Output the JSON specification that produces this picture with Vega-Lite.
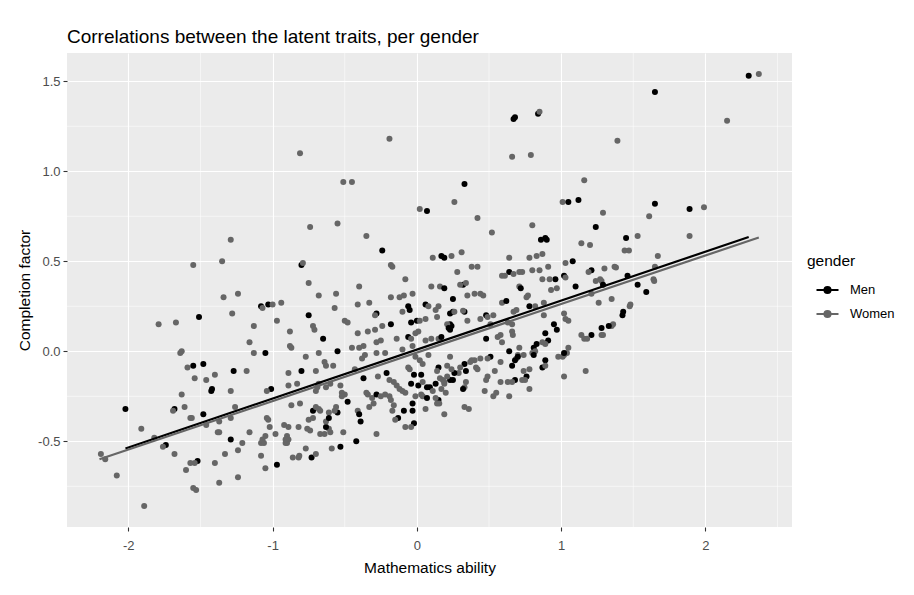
{
  "$schema": "https://vega.github.io/schema/vega-lite/v6.json",
  "width": 725,
  "height": 474,
  "autosize": {"type": "none"},
  "padding": {"left": 67, "top": 53, "right": 122, "bottom": 68},
  "background": "white",
  "title": {"text": "Correlations between the latent traits, per gender", "anchor": "start", "frame": "group", "fontSize": 19, "font": "Liberation Sans", "fontWeight": "normal", "color": "black", "offset": 6},
  "config": {
    "font": "Liberation Sans",
    "view": {"fill": "#ebebeb", "stroke": null},
    "axis": {"gridColor": "white", "gridWidth": 1.1, "gridOpacity": 1, "domain": false, "tickColor": "#333333", "tickSize": 4, "tickWidth": 1.1, "labelColor": "#4d4d4d", "labelFontSize": 13, "titleFontSize": 15.5, "titleFontWeight": "normal", "titleColor": "black", "labelPadding": 2}
  },
  "datasets": {
    "minorx": [{"v": -1.5}, {"v": -0.5}, {"v": 0.5}, {"v": 1.5}, {"v": 2.5}],
    "minory": [{"v": -0.75}, {"v": -0.25}, {"v": 0.25}, {"v": 0.75}, {"v": 1.25}],
    "fits": [
      {"x": -2.02, "y": -0.54, "gender": "Men"}, {"x": 2.30, "y": 0.635, "gender": "Men"},
      {"x": -2.20, "y": -0.60, "gender": "Women"}, {"x": 2.37, "y": 0.632, "gender": "Women"}
    ],
    "points": [
      {"x": -0.81, "y": 1.10, "gender": "Women"}, {"x": -0.19, "y": 1.18, "gender": "Women"}, {"x": -0.51, "y": 0.94, "gender": "Women"}, {"x": -0.45, "y": 0.94, "gender": "Women"},
      {"x": 0.02, "y": 0.79, "gender": "Women"}, {"x": -0.74, "y": 0.69, "gender": "Women"}, {"x": -0.55, "y": 0.71, "gender": "Women"}, {"x": -0.35, "y": 0.64, "gender": "Women"},
      {"x": -0.24, "y": 0.56, "gender": "Men"}, {"x": -1.29, "y": 0.62, "gender": "Women"}, {"x": -1.35, "y": 0.50, "gender": "Women"}, {"x": -1.55, "y": 0.48, "gender": "Women"},
      {"x": -0.80, "y": 0.48, "gender": "Men"}, {"x": -0.79, "y": 0.49, "gender": "Women"}, {"x": -0.18, "y": 0.48, "gender": "Women"}, {"x": -0.17, "y": 0.47, "gender": "Women"},
      {"x": -0.08, "y": 0.40, "gender": "Women"}, {"x": -0.75, "y": 0.38, "gender": "Women"}, {"x": -0.40, "y": 0.36, "gender": "Women"},
      {"x": 2.30, "y": 1.53, "gender": "Men"}, {"x": 2.37, "y": 1.54, "gender": "Women"}, {"x": 1.65, "y": 1.44, "gender": "Men"}, {"x": 2.15, "y": 1.28, "gender": "Women"},
      {"x": 0.67, "y": 1.29, "gender": "Men"}, {"x": 0.68, "y": 1.30, "gender": "Men"}, {"x": 0.84, "y": 1.32, "gender": "Men"}, {"x": 0.85, "y": 1.33, "gender": "Women"},
      {"x": 0.66, "y": 1.08, "gender": "Women"}, {"x": 0.79, "y": 1.09, "gender": "Women"}, {"x": 1.39, "y": 1.17, "gender": "Women"}, {"x": 0.33, "y": 0.93, "gender": "Men"},
      {"x": 1.16, "y": 0.95, "gender": "Women"}, {"x": 0.26, "y": 0.83, "gender": "Women"}, {"x": 0.07, "y": 0.78, "gender": "Men"}, {"x": 1.01, "y": 0.83, "gender": "Women"},
      {"x": 1.05, "y": 0.83, "gender": "Men"}, {"x": 1.12, "y": 0.84, "gender": "Men"}, {"x": 1.65, "y": 0.82, "gender": "Men"}, {"x": 1.89, "y": 0.79, "gender": "Men"},
      {"x": 1.99, "y": 0.80, "gender": "Women"}, {"x": 1.29, "y": 0.77, "gender": "Women"}, {"x": 1.61, "y": 0.75, "gender": "Women"}, {"x": 0.42, "y": 0.74, "gender": "Women"},
      {"x": 1.24, "y": 0.69, "gender": "Men"}, {"x": 0.52, "y": 0.66, "gender": "Women"}, {"x": 0.80, "y": 0.70, "gender": "Women"}, {"x": 0.86, "y": 0.62, "gender": "Men"},
      {"x": 0.89, "y": 0.63, "gender": "Men"}, {"x": 0.90, "y": 0.62, "gender": "Men"}, {"x": 1.45, "y": 0.63, "gender": "Men"}, {"x": 1.53, "y": 0.64, "gender": "Women"},
      {"x": 1.89, "y": 0.64, "gender": "Women"}, {"x": 1.14, "y": 0.60, "gender": "Women"}, {"x": 1.20, "y": 0.59, "gender": "Women"}, {"x": 1.44, "y": 0.56, "gender": "Women"},
      {"x": 1.47, "y": 0.56, "gender": "Women"}, {"x": 1.67, "y": 0.53, "gender": "Women"}, {"x": 0.17, "y": 0.53, "gender": "Men"}, {"x": 0.19, "y": 0.52, "gender": "Men"},
      {"x": 0.11, "y": 0.52, "gender": "Women"}, {"x": 0.24, "y": 0.53, "gender": "Women"}, {"x": 0.31, "y": 0.55, "gender": "Women"}, {"x": 0.64, "y": 0.52, "gender": "Women"},
      {"x": 0.78, "y": 0.52, "gender": "Women"}, {"x": 0.83, "y": 0.53, "gender": "Women"}, {"x": 0.87, "y": 0.54, "gender": "Women"}, {"x": 1.03, "y": 0.49, "gender": "Women"},
      {"x": 1.08, "y": 0.50, "gender": "Men"}, {"x": 0.38, "y": 0.47, "gender": "Women"}, {"x": 0.42, "y": 0.47, "gender": "Women"}, {"x": 0.28, "y": 0.44, "gender": "Women"},
      {"x": 0.64, "y": 0.44, "gender": "Men"}, {"x": 0.67, "y": 0.43, "gender": "Women"}, {"x": 0.71, "y": 0.44, "gender": "Women"}, {"x": 0.73, "y": 0.44, "gender": "Women"},
      {"x": 0.59, "y": 0.42, "gender": "Women"}, {"x": 0.61, "y": 0.42, "gender": "Women"}, {"x": 0.80, "y": 0.45, "gender": "Women"}, {"x": 0.85, "y": 0.45, "gender": "Women"},
      {"x": 0.91, "y": 0.47, "gender": "Women"}, {"x": 1.21, "y": 0.45, "gender": "Men"}, {"x": 1.19, "y": 0.44, "gender": "Women"}, {"x": 1.30, "y": 0.46, "gender": "Women"},
      {"x": 1.37, "y": 0.47, "gender": "Women"}, {"x": 1.38, "y": 0.465, "gender": "Women"}, {"x": 1.65, "y": 0.47, "gender": "Women"}, {"x": 1.46, "y": 0.42, "gender": "Men"},
      {"x": 1.02, "y": 0.42, "gender": "Men"}, {"x": 1.03, "y": 0.41, "gender": "Women"}, {"x": 0.96, "y": 0.40, "gender": "Men"}, {"x": 0.87, "y": 0.40, "gender": "Women"},
      {"x": 0.92, "y": 0.40, "gender": "Women"}, {"x": 0.71, "y": 0.36, "gender": "Women"}, {"x": 0.10, "y": 0.36, "gender": "Women"}, {"x": 0.16, "y": 0.36, "gender": "Women"},
      {"x": 0.19, "y": 0.35, "gender": "Men"}, {"x": 0.32, "y": 0.37, "gender": "Men"}, {"x": 0.30, "y": 0.37, "gender": "Women"}, {"x": 0.34, "y": 0.38, "gender": "Women"},
      {"x": 1.10, "y": 0.36, "gender": "Men"}, {"x": 1.27, "y": 0.40, "gender": "Women"}, {"x": 1.28, "y": 0.39, "gender": "Women"}, {"x": 1.24, "y": 0.39, "gender": "Women"},
      {"x": 1.53, "y": 0.37, "gender": "Men"}, {"x": 1.64, "y": 0.40, "gender": "Women"}, {"x": 1.645, "y": 0.39, "gender": "Women"}, {"x": 0.97, "y": 0.35, "gender": "Women"},
      {"x": -1.34, "y": 0.30, "gender": "Women"}, {"x": -1.24, "y": 0.32, "gender": "Women"}, {"x": -0.68, "y": 0.31, "gender": "Women"}, {"x": -0.56, "y": 0.32, "gender": "Women"},
      {"x": -0.12, "y": 0.30, "gender": "Women"}, {"x": -0.09, "y": 0.31, "gender": "Women"}, {"x": -1.28, "y": 0.21, "gender": "Women"}, {"x": -1.08, "y": 0.25, "gender": "Men"},
      {"x": -1.07, "y": 0.24, "gender": "Women"}, {"x": -1.03, "y": 0.26, "gender": "Men"}, {"x": -1.00, "y": 0.26, "gender": "Women"}, {"x": -0.94, "y": 0.27, "gender": "Women"},
      {"x": -0.75, "y": 0.20, "gender": "Men"}, {"x": -0.57, "y": 0.24, "gender": "Women"}, {"x": -0.41, "y": 0.26, "gender": "Women"}, {"x": -0.33, "y": 0.27, "gender": "Women"},
      {"x": -0.06, "y": 0.25, "gender": "Men"}, {"x": -0.05, "y": 0.23, "gender": "Men"}, {"x": -1.51, "y": 0.19, "gender": "Men"}, {"x": -1.79, "y": 0.15, "gender": "Women"},
      {"x": -1.67, "y": 0.16, "gender": "Women"}, {"x": -0.97, "y": 0.17, "gender": "Women"}, {"x": -1.13, "y": 0.14, "gender": "Women"}, {"x": -0.88, "y": 0.11, "gender": "Women"},
      {"x": -0.72, "y": 0.14, "gender": "Women"}, {"x": -0.71, "y": 0.12, "gender": "Women"}, {"x": -0.50, "y": 0.17, "gender": "Women"}, {"x": -0.48, "y": 0.16, "gender": "Women"},
      {"x": -0.28, "y": 0.21, "gender": "Men"}, {"x": -0.29, "y": 0.20, "gender": "Women"}, {"x": -0.18, "y": 0.15, "gender": "Men"}, {"x": -0.04, "y": 0.16, "gender": "Men"},
      {"x": 0.00, "y": 0.17, "gender": "Men"}, {"x": -0.06, "y": 0.08, "gender": "Men"}, {"x": -0.01, "y": 0.10, "gender": "Women"}, {"x": -0.41, "y": 0.10, "gender": "Women"},
      {"x": -0.34, "y": 0.11, "gender": "Women"}, {"x": -0.29, "y": 0.12, "gender": "Women"}, {"x": -0.24, "y": 0.14, "gender": "Women"}, {"x": -0.14, "y": 0.07, "gender": "Women"},
      {"x": -0.65, "y": 0.07, "gender": "Men"}, {"x": -1.16, "y": 0.05, "gender": "Women"}, {"x": -0.88, "y": 0.03, "gender": "Women"}, {"x": -0.87, "y": 0.02, "gender": "Women"},
      {"x": -0.55, "y": 0.00, "gender": "Men"}, {"x": -0.68, "y": -0.01, "gender": "Women"}, {"x": -0.77, "y": -0.03, "gender": "Women"}, {"x": -1.05, "y": -0.01, "gender": "Men"},
      {"x": -1.13, "y": -0.01, "gender": "Women"}, {"x": -1.64, "y": -0.01, "gender": "Women"}, {"x": -1.63, "y": 0.00, "gender": "Women"}, {"x": -0.45, "y": 0.02, "gender": "Women"},
      {"x": -0.40, "y": 0.02, "gender": "Women"}, {"x": -0.37, "y": 0.03, "gender": "Women"}, {"x": -0.28, "y": -0.01, "gender": "Women"}, {"x": -0.22, "y": -0.01, "gender": "Women"},
      {"x": -0.36, "y": -0.02, "gender": "Women"}, {"x": -0.38, "y": -0.04, "gender": "Women"}, {"x": -0.10, "y": 0.01, "gender": "Women"}, {"x": -0.03, "y": 0.03, "gender": "Women"},
      {"x": -0.04, "y": 0.07, "gender": "Women"}, {"x": -0.01, "y": -0.03, "gender": "Women"}, {"x": -0.05, "y": -0.10, "gender": "Women"}, {"x": -0.06, "y": -0.09, "gender": "Women"},
      {"x": -1.59, "y": -0.09, "gender": "Women"}, {"x": -1.55, "y": -0.08, "gender": "Men"}, {"x": -1.48, "y": -0.07, "gender": "Men"}, {"x": -1.27, "y": -0.11, "gender": "Men"},
      {"x": -1.18, "y": -0.11, "gender": "Women"}, {"x": -0.80, "y": -0.11, "gender": "Men"}, {"x": -0.89, "y": -0.12, "gender": "Women"}, {"x": -0.70, "y": -0.11, "gender": "Women"},
      {"x": -0.63, "y": -0.08, "gender": "Women"}, {"x": -0.64, "y": -0.06, "gender": "Women"}, {"x": -0.58, "y": -0.08, "gender": "Women"}, {"x": -0.43, "y": -0.10, "gender": "Women"},
      {"x": -0.37, "y": -0.15, "gender": "Men"}, {"x": -0.27, "y": -0.14, "gender": "Women"}, {"x": -0.21, "y": -0.12, "gender": "Men"}, {"x": -0.19, "y": -0.16, "gender": "Women"},
      {"x": -0.16, "y": -0.17, "gender": "Women"}, {"x": -0.14, "y": -0.19, "gender": "Women"}, {"x": -0.12, "y": -0.21, "gender": "Women"}, {"x": -0.10, "y": -0.22, "gender": "Women"},
      {"x": -0.08, "y": -0.23, "gender": "Women"}, {"x": -0.04, "y": -0.18, "gender": "Men"}, {"x": -0.02, "y": -0.13, "gender": "Men"}, {"x": 0.01, "y": -0.19, "gender": "Men"},
      {"x": -0.01, "y": -0.25, "gender": "Women"}, {"x": -1.54, "y": -0.15, "gender": "Women"}, {"x": -1.46, "y": -0.16, "gender": "Women"}, {"x": -1.40, "y": -0.13, "gender": "Women"},
      {"x": -1.42, "y": -0.21, "gender": "Men"}, {"x": -1.425, "y": -0.22, "gender": "Men"}, {"x": -1.63, "y": -0.24, "gender": "Women"}, {"x": -1.29, "y": -0.22, "gender": "Women"},
      {"x": -1.01, "y": -0.21, "gender": "Men"}, {"x": -1.04, "y": -0.22, "gender": "Women"}, {"x": -0.89, "y": -0.19, "gender": "Women"}, {"x": -0.83, "y": -0.18, "gender": "Women"},
      {"x": -0.68, "y": -0.18, "gender": "Women"}, {"x": -0.69, "y": -0.20, "gender": "Women"}, {"x": -0.70, "y": -0.22, "gender": "Women"}, {"x": -0.63, "y": -0.20, "gender": "Women"},
      {"x": -0.60, "y": -0.18, "gender": "Women"}, {"x": -0.53, "y": -0.19, "gender": "Women"}, {"x": -0.52, "y": -0.23, "gender": "Women"}, {"x": -0.50, "y": -0.24, "gender": "Women"},
      {"x": -0.52, "y": -0.25, "gender": "Women"}, {"x": -0.48, "y": -0.28, "gender": "Men"}, {"x": -0.81, "y": -0.29, "gender": "Women"}, {"x": -0.87, "y": -0.30, "gender": "Women"},
      {"x": -0.72, "y": -0.33, "gender": "Men"}, {"x": -0.70, "y": -0.31, "gender": "Women"}, {"x": -0.68, "y": -0.32, "gender": "Women"}, {"x": -0.67, "y": -0.33, "gender": "Women"},
      {"x": -0.61, "y": -0.34, "gender": "Women"}, {"x": -0.55, "y": -0.34, "gender": "Men"}, {"x": -0.41, "y": -0.33, "gender": "Women"}, {"x": -0.40, "y": -0.35, "gender": "Men"},
      {"x": -0.39, "y": -0.39, "gender": "Men"}, {"x": -0.33, "y": -0.31, "gender": "Women"}, {"x": -0.30, "y": -0.29, "gender": "Women"}, {"x": -0.31, "y": -0.26, "gender": "Women"},
      {"x": -0.34, "y": -0.24, "gender": "Women"}, {"x": -0.35, "y": -0.23, "gender": "Women"}, {"x": -0.28, "y": -0.24, "gender": "Men"}, {"x": -0.25, "y": -0.25, "gender": "Women"},
      {"x": -0.22, "y": -0.24, "gender": "Women"}, {"x": -0.19, "y": -0.25, "gender": "Women"}, {"x": -0.18, "y": -0.27, "gender": "Women"}, {"x": -0.16, "y": -0.30, "gender": "Women"},
      {"x": -0.17, "y": -0.33, "gender": "Women"}, {"x": -0.13, "y": -0.37, "gender": "Men"}, {"x": -0.15, "y": -0.38, "gender": "Women"}, {"x": -0.09, "y": -0.33, "gender": "Men"},
      {"x": -0.03, "y": -0.33, "gender": "Men"}, {"x": -0.03, "y": -0.29, "gender": "Men"}, {"x": -0.02, "y": -0.40, "gender": "Men"}, {"x": -0.08, "y": -0.42, "gender": "Women"},
      {"x": -0.04, "y": -0.42, "gender": "Women"}, {"x": -0.28, "y": -0.46, "gender": "Women"}, {"x": -0.42, "y": -0.50, "gender": "Men"}, {"x": -0.53, "y": -0.53, "gender": "Men"},
      {"x": -0.51, "y": -0.45, "gender": "Women"}, {"x": -0.60, "y": -0.45, "gender": "Women"}, {"x": -0.61, "y": -0.43, "gender": "Women"}, {"x": -0.63, "y": -0.42, "gender": "Men"},
      {"x": -0.63, "y": -0.39, "gender": "Women"}, {"x": -0.61, "y": -0.37, "gender": "Men"}, {"x": -0.67, "y": -0.46, "gender": "Women"}, {"x": -0.74, "y": -0.44, "gender": "Women"},
      {"x": -0.76, "y": -0.43, "gender": "Women"}, {"x": -0.82, "y": -0.42, "gender": "Women"}, {"x": -0.92, "y": -0.41, "gender": "Women"}, {"x": -0.89, "y": -0.42, "gender": "Women"},
      {"x": -0.90, "y": -0.47, "gender": "Women"}, {"x": -0.89, "y": -0.49, "gender": "Women"}, {"x": -0.90, "y": -0.51, "gender": "Women"}, {"x": -0.91, "y": -0.51, "gender": "Women"},
      {"x": -0.91, "y": -0.49, "gender": "Women"}, {"x": -0.98, "y": -0.46, "gender": "Women"}, {"x": -1.05, "y": -0.47, "gender": "Women"}, {"x": -1.04, "y": -0.37, "gender": "Women"},
      {"x": -1.03, "y": -0.38, "gender": "Women"}, {"x": -1.02, "y": -0.42, "gender": "Women"}, {"x": -1.07, "y": -0.49, "gender": "Women"}, {"x": -1.08, "y": -0.51, "gender": "Women"},
      {"x": -1.06, "y": -0.51, "gender": "Women"}, {"x": -1.08, "y": -0.58, "gender": "Women"}, {"x": -1.05, "y": -0.65, "gender": "Women"}, {"x": -0.97, "y": -0.63, "gender": "Men"},
      {"x": -0.86, "y": -0.59, "gender": "Women"}, {"x": -0.82, "y": -0.59, "gender": "Women"}, {"x": -0.815, "y": -0.58, "gender": "Women"}, {"x": -0.77, "y": -0.54, "gender": "Women"},
      {"x": -0.73, "y": -0.59, "gender": "Men"}, {"x": -0.70, "y": -0.57, "gender": "Women"}, {"x": -0.59, "y": -0.54, "gender": "Women"}, {"x": -1.16, "y": -0.45, "gender": "Women"},
      {"x": -1.21, "y": -0.51, "gender": "Women"}, {"x": -1.24, "y": -0.55, "gender": "Women"}, {"x": -1.29, "y": -0.49, "gender": "Men"}, {"x": -1.33, "y": -0.57, "gender": "Women"},
      {"x": -1.40, "y": -0.62, "gender": "Women"}, {"x": -1.37, "y": -0.73, "gender": "Women"}, {"x": -1.24, "y": -0.70, "gender": "Women"}, {"x": -1.37, "y": -0.45, "gender": "Women"},
      {"x": -1.38, "y": -0.45, "gender": "Women"}, {"x": -1.26, "y": -0.31, "gender": "Women"}, {"x": -1.29, "y": -0.37, "gender": "Women"}, {"x": -1.46, "y": -0.41, "gender": "Women"},
      {"x": -1.48, "y": -0.35, "gender": "Men"}, {"x": -1.37, "y": -0.39, "gender": "Women"}, {"x": -1.57, "y": -0.37, "gender": "Women"}, {"x": -1.56, "y": -0.37, "gender": "Women"},
      {"x": -1.61, "y": -0.31, "gender": "Women"}, {"x": -1.68, "y": -0.32, "gender": "Men"}, {"x": -1.69, "y": -0.33, "gender": "Women"}, {"x": -1.52, "y": -0.61, "gender": "Men"},
      {"x": -1.54, "y": -0.62, "gender": "Women"}, {"x": -1.57, "y": -0.62, "gender": "Women"}, {"x": -1.60, "y": -0.66, "gender": "Women"}, {"x": -1.55, "y": -0.76, "gender": "Women"},
      {"x": -1.53, "y": -0.77, "gender": "Women"}, {"x": -1.68, "y": -0.57, "gender": "Women"}, {"x": -1.74, "y": -0.52, "gender": "Men"}, {"x": -1.76, "y": -0.53, "gender": "Women"},
      {"x": -1.82, "y": -0.48, "gender": "Women"}, {"x": -1.91, "y": -0.43, "gender": "Women"}, {"x": -2.02, "y": -0.32, "gender": "Men"}, {"x": -2.19, "y": -0.57, "gender": "Women"},
      {"x": -2.16, "y": -0.60, "gender": "Women"}, {"x": -2.08, "y": -0.69, "gender": "Women"}, {"x": -1.89, "y": -0.86, "gender": "Women"},
      {"x": 0.25, "y": 0.29, "gender": "Men"}, {"x": 0.06, "y": 0.26, "gender": "Men"}, {"x": 0.08, "y": 0.25, "gender": "Women"}, {"x": 0.35, "y": 0.31, "gender": "Women"},
      {"x": 0.40, "y": 0.32, "gender": "Women"}, {"x": 0.44, "y": 0.32, "gender": "Women"}, {"x": 0.46, "y": 0.31, "gender": "Women"}, {"x": 0.02, "y": 0.17, "gender": "Women"},
      {"x": 0.06, "y": 0.18, "gender": "Women"}, {"x": 0.14, "y": 0.19, "gender": "Women"}, {"x": 0.23, "y": 0.21, "gender": "Men"}, {"x": 0.25, "y": 0.22, "gender": "Men"},
      {"x": 0.23, "y": 0.15, "gender": "Men"}, {"x": 0.24, "y": 0.14, "gender": "Men"}, {"x": 0.23, "y": 0.12, "gender": "Men"}, {"x": 0.26, "y": 0.22, "gender": "Women"},
      {"x": 0.33, "y": 0.22, "gender": "Men"}, {"x": 0.32, "y": 0.225, "gender": "Women"}, {"x": 0.35, "y": 0.17, "gender": "Women"}, {"x": 0.48, "y": 0.20, "gender": "Men"},
      {"x": 0.44, "y": 0.18, "gender": "Women"}, {"x": 0.49, "y": 0.19, "gender": "Women"}, {"x": 0.53, "y": 0.20, "gender": "Women"}, {"x": 0.59, "y": 0.27, "gender": "Women"},
      {"x": 0.62, "y": 0.28, "gender": "Men"}, {"x": 0.72, "y": 0.35, "gender": "Men"}, {"x": 0.76, "y": 0.30, "gender": "Women"}, {"x": 0.77, "y": 0.31, "gender": "Women"},
      {"x": 0.78, "y": 0.25, "gender": "Men"}, {"x": 0.82, "y": 0.25, "gender": "Women"}, {"x": 0.88, "y": 0.27, "gender": "Women"}, {"x": 0.88, "y": 0.20, "gender": "Women"},
      {"x": 0.93, "y": 0.34, "gender": "Women"}, {"x": 0.95, "y": 0.15, "gender": "Men"}, {"x": 0.97, "y": 0.12, "gender": "Men"}, {"x": 1.02, "y": 0.21, "gender": "Women"},
      {"x": 1.03, "y": 0.18, "gender": "Women"}, {"x": 1.05, "y": 0.17, "gender": "Women"}, {"x": 1.21, "y": 0.32, "gender": "Women"}, {"x": 1.29, "y": 0.37, "gender": "Men"},
      {"x": 1.35, "y": 0.29, "gender": "Women"}, {"x": 1.59, "y": 0.33, "gender": "Men"}, {"x": 1.48, "y": 0.26, "gender": "Women"}, {"x": 1.475, "y": 0.25, "gender": "Women"},
      {"x": 1.43, "y": 0.22, "gender": "Men"}, {"x": 1.425, "y": 0.20, "gender": "Men"}, {"x": 1.36, "y": 0.15, "gender": "Women"}, {"x": 1.35, "y": 0.14, "gender": "Women"},
      {"x": 1.33, "y": 0.14, "gender": "Men"}, {"x": 1.28, "y": 0.13, "gender": "Men"}, {"x": 1.28, "y": 0.09, "gender": "Women"}, {"x": 1.29, "y": 0.09, "gender": "Women"},
      {"x": 1.21, "y": 0.09, "gender": "Men"}, {"x": 1.14, "y": 0.09, "gender": "Women"}, {"x": 1.16, "y": 0.07, "gender": "Women"}, {"x": 1.18, "y": 0.07, "gender": "Women"},
      {"x": 1.17, "y": -0.11, "gender": "Women"}, {"x": 1.02, "y": -0.14, "gender": "Women"}, {"x": 1.05, "y": 0.02, "gender": "Women"}, {"x": 1.04, "y": -0.01, "gender": "Women"},
      {"x": 1.02, "y": -0.02, "gender": "Women"}, {"x": 0.98, "y": -0.03, "gender": "Women"}, {"x": 1.01, "y": -0.03, "gender": "Women"}, {"x": 1.02, "y": -0.01, "gender": "Men"},
      {"x": 0.91, "y": 0.06, "gender": "Men"}, {"x": 0.89, "y": 0.10, "gender": "Men"}, {"x": 0.89, "y": 0.04, "gender": "Women"}, {"x": 0.87, "y": 0.05, "gender": "Women"},
      {"x": 0.83, "y": 0.04, "gender": "Men"}, {"x": 0.81, "y": 0.02, "gender": "Men"}, {"x": 0.82, "y": 0.00, "gender": "Women"}, {"x": 0.80, "y": -0.01, "gender": "Women"},
      {"x": 0.81, "y": -0.02, "gender": "Men"}, {"x": 0.89, "y": -0.05, "gender": "Men"}, {"x": 0.87, "y": -0.09, "gender": "Men"}, {"x": 0.89, "y": -0.08, "gender": "Women"},
      {"x": 0.78, "y": -0.10, "gender": "Women"}, {"x": 0.78, "y": -0.21, "gender": "Women"}, {"x": 0.76, "y": -0.14, "gender": "Men"}, {"x": 0.74, "y": -0.11, "gender": "Women"},
      {"x": 0.75, "y": -0.16, "gender": "Women"}, {"x": 0.73, "y": -0.16, "gender": "Women"}, {"x": 0.71, "y": 0.02, "gender": "Women"}, {"x": 0.70, "y": -0.02, "gender": "Women"},
      {"x": 0.69, "y": -0.04, "gender": "Women"}, {"x": 0.70, "y": -0.03, "gender": "Men"}, {"x": 0.68, "y": -0.05, "gender": "Men"}, {"x": 0.66, "y": -0.08, "gender": "Men"},
      {"x": 0.64, "y": 0.00, "gender": "Men"}, {"x": 0.66, "y": 0.11, "gender": "Women"}, {"x": 0.665, "y": 0.09, "gender": "Women"}, {"x": 0.66, "y": 0.15, "gender": "Women"},
      {"x": 0.63, "y": 0.16, "gender": "Women"}, {"x": 0.67, "y": 0.22, "gender": "Women"}, {"x": 0.69, "y": 0.23, "gender": "Women"}, {"x": 0.58, "y": 0.09, "gender": "Women"},
      {"x": 0.56, "y": 0.08, "gender": "Women"}, {"x": 0.59, "y": 0.05, "gender": "Women"}, {"x": 0.48, "y": 0.07, "gender": "Men"}, {"x": 0.51, "y": -0.03, "gender": "Men"},
      {"x": 0.49, "y": -0.04, "gender": "Women"}, {"x": 0.58, "y": -0.06, "gender": "Women"}, {"x": 0.54, "y": -0.11, "gender": "Women"}, {"x": 0.68, "y": -0.16, "gender": "Men"},
      {"x": 0.66, "y": -0.17, "gender": "Women"}, {"x": 0.63, "y": -0.17, "gender": "Women"}, {"x": 0.58, "y": -0.17, "gender": "Women"}, {"x": 0.64, "y": -0.25, "gender": "Women"},
      {"x": 0.55, "y": -0.23, "gender": "Women"}, {"x": 0.53, "y": -0.25, "gender": "Women"}, {"x": 0.47, "y": -0.22, "gender": "Women"}, {"x": 0.49, "y": -0.14, "gender": "Women"},
      {"x": 0.48, "y": -0.16, "gender": "Women"}, {"x": 0.44, "y": -0.04, "gender": "Women"}, {"x": 0.40, "y": -0.05, "gender": "Women"}, {"x": 0.38, "y": -0.05, "gender": "Women"},
      {"x": 0.37, "y": -0.06, "gender": "Women"}, {"x": 0.41, "y": -0.09, "gender": "Women"}, {"x": 0.42, "y": -0.10, "gender": "Women"}, {"x": 0.34, "y": -0.11, "gender": "Men"},
      {"x": 0.33, "y": -0.07, "gender": "Men"}, {"x": 0.34, "y": -0.17, "gender": "Women"}, {"x": 0.33, "y": -0.20, "gender": "Women"}, {"x": 0.32, "y": -0.21, "gender": "Men"},
      {"x": 0.33, "y": -0.31, "gender": "Women"}, {"x": 0.36, "y": -0.32, "gender": "Women"}, {"x": 0.30, "y": -0.09, "gender": "Women"}, {"x": 0.29, "y": -0.12, "gender": "Women"},
      {"x": 0.26, "y": -0.12, "gender": "Men"}, {"x": 0.25, "y": -0.16, "gender": "Men"}, {"x": 0.23, "y": -0.16, "gender": "Men"}, {"x": 0.21, "y": -0.14, "gender": "Women"},
      {"x": 0.19, "y": -0.17, "gender": "Women"}, {"x": 0.20, "y": -0.23, "gender": "Women"}, {"x": 0.23, "y": -0.03, "gender": "Women"}, {"x": 0.24, "y": -0.10, "gender": "Women"},
      {"x": 0.21, "y": -0.08, "gender": "Women"}, {"x": 0.15, "y": -0.09, "gender": "Men"}, {"x": 0.14, "y": -0.11, "gender": "Women"}, {"x": 0.16, "y": -0.15, "gender": "Women"},
      {"x": 0.18, "y": -0.16, "gender": "Women"}, {"x": 0.19, "y": -0.18, "gender": "Women"}, {"x": 0.17, "y": -0.21, "gender": "Women"}, {"x": 0.13, "y": -0.18, "gender": "Men"},
      {"x": 0.09, "y": -0.20, "gender": "Men"}, {"x": 0.11, "y": -0.22, "gender": "Women"}, {"x": 0.15, "y": -0.27, "gender": "Men"}, {"x": 0.14, "y": -0.29, "gender": "Women"},
      {"x": 0.155, "y": -0.29, "gender": "Women"}, {"x": 0.13, "y": -0.26, "gender": "Women"}, {"x": 0.19, "y": -0.35, "gender": "Women"}, {"x": 0.08, "y": -0.02, "gender": "Women"},
      {"x": 0.04, "y": -0.07, "gender": "Women"}, {"x": 0.02, "y": -0.05, "gender": "Women"}, {"x": 0.03, "y": -0.13, "gender": "Men"}, {"x": 0.04, "y": -0.17, "gender": "Women"},
      {"x": 0.07, "y": -0.20, "gender": "Men"}, {"x": 0.06, "y": -0.32, "gender": "Women"}, {"x": 0.03, "y": -0.24, "gender": "Women"}, {"x": 0.04, "y": -0.25, "gender": "Women"},
      {"x": 0.07, "y": -0.26, "gender": "Men"}, {"x": 0.13, "y": 0.23, "gender": "Women"}, {"x": 0.15, "y": 0.25, "gender": "Women"}, {"x": 0.51, "y": 0.15, "gender": "Women"},
      {"x": -0.18, "y": 0.30, "gender": "Women"}, {"x": -0.03, "y": 0.32, "gender": "Women"}, {"x": -0.10, "y": 0.22, "gender": "Women"}, {"x": 0.01, "y": 0.11, "gender": "Women"},
      {"x": 0.06, "y": 0.06, "gender": "Women"}, {"x": 0.10, "y": 0.07, "gender": "Women"}, {"x": 0.15, "y": 0.07, "gender": "Women"}, {"x": 0.17, "y": 0.08, "gender": "Men"},
      {"x": -0.28, "y": 0.05, "gender": "Women"}, {"x": -0.25, "y": 0.06, "gender": "Women"}, {"x": 0.21, "y": 0.15, "gender": "Women"}, {"x": 0.22, "y": 0.13, "gender": "Men"},
      {"x": 1.26, "y": 0.27, "gender": "Women"}, {"x": -0.75, "y": -0.38, "gender": "Women"}, {"x": -0.72, "y": -0.37, "gender": "Women"}, {"x": -0.64, "y": -0.46, "gender": "Women"},
      {"x": -0.56, "y": -0.31, "gender": "Women"}, {"x": -0.57, "y": -0.33, "gender": "Women"}, {"x": 0.74, "y": -0.02, "gender": "Women"}
    ]
  },
  "layer": [
    {
      "data": {"name": "minorx"},
      "mark": {"type": "rule", "color": "white", "strokeWidth": 0.55},
      "encoding": {"x": {"field": "v", "type": "quantitative", "title": "Mathematics ability"}}
    },
    {
      "data": {"name": "minory"},
      "mark": {"type": "rule", "color": "white", "strokeWidth": 0.55},
      "encoding": {"y": {"field": "v", "type": "quantitative", "title": "Completion factor"}}
    },
    {
      "data": {"name": "points"},
      "mark": {"type": "circle", "size": 36, "opacity": 1},
      "encoding": {
        "x": {"field": "x", "type": "quantitative", "title": "Mathematics ability",
              "scale": {"domain": [-2.425, 2.6], "nice": false, "zero": false},
              "axis": {"values": [-2, -1, 0, 1, 2], "labelExpr": "replace(format(datum.value, 'd'), '\u2212', '-')", "labelPadding": 8, "titlePadding": 8}},
        "y": {"field": "y", "type": "quantitative", "title": "Completion factor",
              "scale": {"domain": [-0.976, 1.657], "nice": false, "zero": false},
              "axis": {"values": [-0.5, 0, 0.5, 1, 1.5], "labelExpr": "replace(format(datum.value, '.1f'), '\u2212', '-')", "labelPadding": 3, "titlePadding": 5}},
        "color": {"field": "gender", "type": "nominal",
                  "scale": {"domain": ["Men", "Women"], "range": ["#000000", "#666666"]},
                  "legend": {"orient": "none", "legendX": 740, "legendY": 201, "title": "gender",
                             "titleFontSize": 15.5, "titleFontWeight": "normal", "titleColor": "black", "titlePadding": 8,
                             "labelFontSize": 13, "labelColor": "black", "labelOffset": 10,
                             "symbolType": "M-1,0H1M-0.27,0A0.27,0.27,0,1,1,0.27,0A0.27,0.27,0,1,1,-0.27,0Z",
                             "symbolSize": 484, "symbolOffset": 8, "symbolStrokeWidth": 2.2, "symbolOpacity": 1, "rowPadding": 4,
                             "encode": {
                               "symbols": {"update": {"fill": {"scale": "color", "field": "value"}, "stroke": {"scale": "color", "field": "value"}, "strokeWidth": {"value": 2.2}, "opacity": {"value": 1}}}
                             }}}
      }
    },
    {
      "data": {"name": "fits"},
      "mark": {"type": "line", "strokeWidth": 2.2},
      "encoding": {
        "x": {"field": "x", "type": "quantitative", "title": "Mathematics ability"},
        "y": {"field": "y", "type": "quantitative", "title": "Completion factor"},
        "color": {"field": "gender", "type": "nominal", "legend": null}
      }
    }
  ]
}
